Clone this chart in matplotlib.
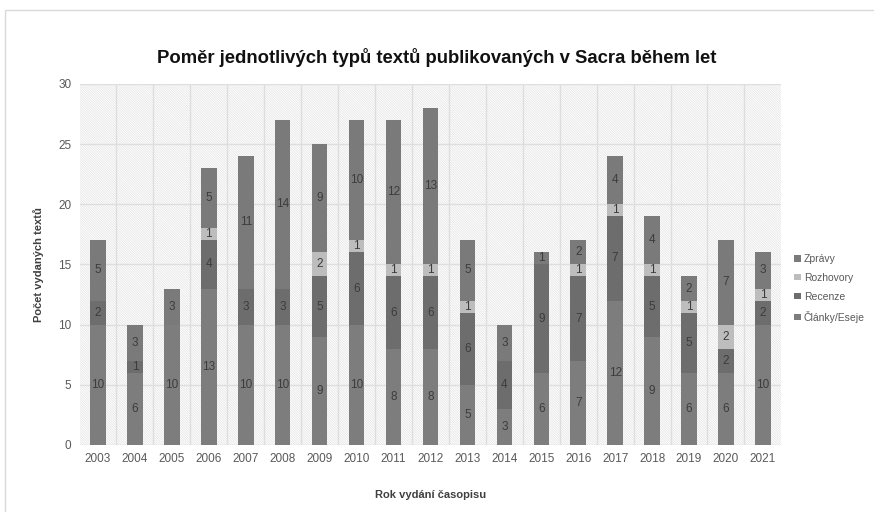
import matplotlib.pyplot as plt
from matplotlib.patches import Rectangle
import numpy as np

plt.rcParams['font.family'] = ['Liberation Sans', 'DejaVu Sans']
plt.rcParams['hatch.linewidth'] = 0.5
plt.rcParams['hatch.color'] = '#e2e2e2'

years = [str(y) for y in range(2003, 2022)]
clanky = [10, 6, 10, 13, 10, 10, 9, 10, 8, 8, 5, 3, 6, 7, 12, 9, 6, 6, 10]
recenze = [2, 1, 0, 4, 3, 3, 5, 6, 6, 6, 6, 4, 9, 7, 7, 5, 5, 2, 2]
rozhovory = [0, 0, 0, 1, 0, 0, 2, 1, 1, 1, 1, 0, 0, 1, 1, 1, 1, 2, 1]
zpravy = [5, 3, 3, 5, 11, 14, 9, 10, 12, 13, 5, 3, 1, 2, 4, 4, 2, 7, 3]

series = [
    ('Články/Eseje', clanky, '#7d7d7d'),
    ('Recenze', recenze, '#6d6d6d'),
    ('Rozhovory', rozhovory, '#bdbdbd'),
    ('Zprávy', zpravy, '#7a7a7a'),
]

fig = plt.figure(figsize=(8.74, 5.12), dpi=100)
# outer frame of the chart
fig.patches.append(Rectangle((0.006, -0.01), 1.0, 0.99, transform=fig.transFigure,
                             fill=False, edgecolor='#d9d9d9', linewidth=1))
ax = fig.add_axes([0.091, 0.131, 0.803, 0.705])

x = np.arange(len(years))
ax.set_xlim(-0.5, len(years) - 0.5)
ax.set_ylim(0, 30)

# hatched background
ax.add_patch(Rectangle((0, 0), 1, 1, transform=ax.transAxes, facecolor='white',
                       hatch='\\' * 14, edgecolor='#e2e2e2', linewidth=0, zorder=0))

for yv in range(5, 31, 5):
    ax.axhline(yv, color='#dedede', linewidth=1, zorder=1)
for xv in np.arange(0.5, len(years) - 0.5, 1):
    ax.axvline(xv, color='#dedede', linewidth=1, zorder=1)
ax.axhline(0, color='#d9d9d9', linewidth=1, zorder=1)

bottom = np.zeros(len(years))
handles = []
for name, vals, col in series:
    vals = np.array(vals)
    b = ax.bar(x, vals, width=0.42, bottom=bottom, color=col, zorder=2, label=name)
    handles.append(b)
    for xi, v, bt in zip(x, vals, bottom):
        if v > 0:
            ax.text(xi, bt + v / 2, str(v), ha='center', va='center',
                    fontsize=8.5, color='#3c3c3c', zorder=3)
    bottom += vals

ax.set_xticks(x)
ax.set_xticklabels(years)
ax.set_yticks(range(0, 31, 5))
ax.tick_params(axis='both', length=0, labelsize=8.5, colors='#595959', pad=6)
for s in ax.spines.values():
    s.set_visible(False)

ax.set_ylabel('Počet vydaných textů', fontsize=8, fontweight='bold', color='#404040', labelpad=16)
ax.set_xlabel('Rok vydání časopisu', fontsize=8, fontweight='bold', color='#404040', labelpad=18)
ax.yaxis.set_label_coords(-0.05, 0.5)
fig.text(0.5, 0.887, 'Poměr jednotlivých typů textů publikovaných v Sacra během let',
         ha='center', va='center', fontsize=13.3, fontweight='bold', color='#111111')

leg = ax.legend(handles[::-1], [h.get_label() for h in handles[::-1]],
                loc='center left', bbox_to_anchor=(1.008, 0.434), frameon=False,
                fontsize=7.5, handlelength=0.6, handleheight=0.6, handletextpad=0.3,
                labelspacing=0.85, borderaxespad=0.5, borderpad=0.2)
for t in leg.get_texts():
    t.set_color('#595959')

fig.savefig('out.png', dpi=100)
